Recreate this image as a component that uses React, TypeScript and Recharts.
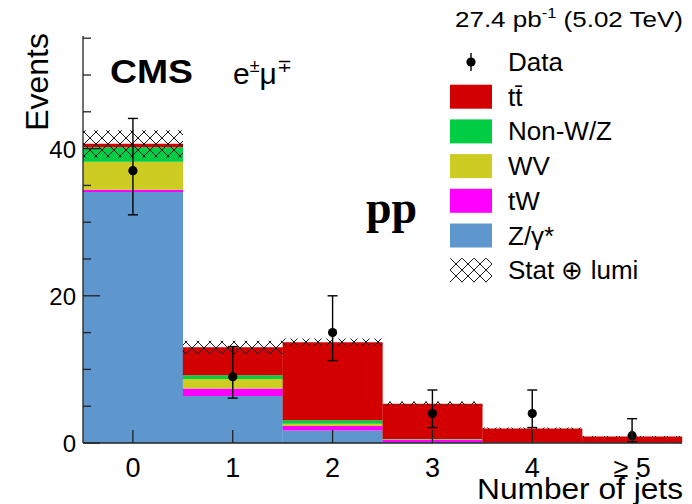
import React from "react";
import { ComposedChart, Bar, Line, XAxis, YAxis, ErrorBar } from "recharts";

// ---- data ----
const bins = ["0", "1", "2", "3", "4", "≥ 5"];
const zGamma = [34.1, 6.4, 1.7, 0.15, 0.02, 0.01];
const tW = [0.3, 1.0, 0.6, 0.3, 0.05, 0.02];
const wv = [3.8, 1.3, 0.3, 0.03, 0.01, 0.0];
const nonWZ = [2.0, 0.5, 0.5, 0.05, 0.0, 0.0];
const ttbar = [0.45, 3.8, 10.6, 4.8, 1.9, 0.85];
const statLumi = [1.85, 0.9, 0.5, 0.3, 0.12, 0.06];
const dataCounts = [37, 9, 15, 4, 4, 1];
const dataErrLow = [6.0, 2.9, 3.8, 1.9, 1.9, 0.83];
const dataErrHigh = [7.1, 4.1, 5.0, 3.2, 3.2, 2.3];
const yTicks = [0, 5, 10, 15, 20, 25, 30, 35, 40, 45, 50, 55];
const yMajor = [0, 20, 40];

const COLORS = {
  tt: "#d20000",
  nonWZ: "#00cc44",
  wv: "#cccc22",
  tW: "#ff00ff",
  z: "#5e97cd",
};

const FONT = "'Liberation Sans', Arial, Helvetica, sans-serif";

const rows = bins.map((b, i) => {
  const total = zGamma[i] + tW[i] + wv[i] + nonWZ[i] + ttbar[i];
  return {
    bin: b,
    z: zGamma[i],
    tW: tW[i],
    wv: wv[i],
    nonWZ: nonWZ[i],
    tt: ttbar[i],
    band: [Math.max(0, total - statLumi[i]), total + statLumi[i]],
    data: dataCounts[i],
    err: [dataErrLow[i], dataErrHigh[i]],
  };
});

const AXIS_COLOR = "#222";

const XTick = (props: any) => {
  const { x, y, payload } = props;
  return (
    <g>
      <line x1={x} x2={x} y1={y} y2={y - 13} stroke={AXIS_COLOR} strokeWidth={1.3} />
      <text x={x} y={y + 34} textAnchor="middle" fontSize={27} fontFamily={FONT} fill="#000">
        {payload.value}
      </text>
    </g>
  );
};

const YTick = (props: any) => {
  const { x, y, payload } = props;
  const major = yMajor.includes(payload.value);
  return (
    <g>
      <line x1={x} x2={x + (major ? 17 : 8)} y1={y} y2={y} stroke={AXIS_COLOR} strokeWidth={1.3} />
      {major && (
        <text x={x - 7} y={y + 9} textAnchor="end" fontSize={24} fontFamily={FONT} fill="#000">
          {payload.value}
        </text>
      )}
    </g>
  );
};

const DataDot = (props: any) => {
  const { cx, cy, index } = props;
  if (cx == null || cy == null) return <g key={index} />;
  return <circle key={index} cx={cx} cy={cy} r={4.6} fill="#000" />;
};

const legendItems = [
  { label: "tt\u0304", color: COLORS.tt },
  { label: "Non-W/Z", color: COLORS.nonWZ },
  { label: "WV", color: COLORS.wv },
  { label: "tW", color: COLORS.tW },
  { label: "Z/γ*", color: COLORS.z },
];

const Overlay = () => {
  const rowH = 34.7;
  const y0 = 62;
  return (
    <svg
      width={692}
      height={504}
      style={{ position: "absolute", left: 0, top: 0, pointerEvents: "none" }}
      fontFamily={FONT}
    >
      {/* top-right luminosity */}
      <text x={683} y={27} textAnchor="end" fontSize={22} fill="#000" textLength={228} lengthAdjust="spacingAndGlyphs">
        27.4 pb
        <tspan fontSize={14} dy={-9}>-1</tspan>
        <tspan dy={9}> (5.02 TeV)</tspan>
      </text>
      {/* y title */}
      <text
        transform="translate(48,33) rotate(-90)"
        textAnchor="end"
        fontSize={32}
        fill="#000"
      >
        Events
      </text>
      {/* x title */}
      <text x={683} y={499} textAnchor="end" fontSize={30} fill="#000" textLength={206} lengthAdjust="spacingAndGlyphs">
        Number of jets
      </text>
      {/* CMS */}
      <text x={110} y={83} fontSize={33} fontWeight="bold" fill="#000" textLength={83} lengthAdjust="spacingAndGlyphs">
        CMS
      </text>
      <text x={233} y={84} fontSize={30} fill="#000">
        e<tspan fontSize={18} dy={-12}>±</tspan>
        <tspan fontSize={30} dy={12}>μ</tspan>
        <tspan fontSize={18} dy={-12}>∓</tspan>
      </text>
      {/* pp */}
      <text x={366} y={223} fontSize={46} fontFamily="'Liberation Serif', 'Times New Roman', serif" fontWeight="bold" fill="#000">
        pp
      </text>
      {/* legend */}
      <g>
        <line x1={471} x2={471} y1={y0 - 9} y2={y0 + 9} stroke="#000" strokeWidth={1.4} />
        <circle cx={471} cy={y0} r={4.6} fill="#000" />
        <text x={508} y={y0 + 9} fontSize={26} fill="#000">Data</text>
        {legendItems.map((it, i) => {
          const cy = y0 + rowH * (i + 1);
          return (
            <g key={it.label}>
              <rect x={450} y={cy - 12} width={42} height={24} fill={it.color} />
              <text x={508} y={cy + 9} fontSize={26} fill="#000">{it.label}</text>
            </g>
          );
        })}
        <rect x={450} y={y0 + rowH * 6 - 12} width={42} height={24} fill="url(#xhatch)" />
        <text x={508} y={y0 + rowH * 6 + 9} fontSize={26} fill="#000">Stat ⊕ lumi</text>
      </g>
    </svg>
  );
};

export default function App() {
  return (
    <div style={{ position: "absolute", left: 0, top: 0, width: 692, height: 504, background: "#fff" }}>
      <svg width={0} height={0} style={{ position: "absolute" }}>
        <defs>
          <pattern id="xhatch" width={12} height={12} patternUnits="userSpaceOnUse">
            <path d="M0,0 L12,12 M12,0 L0,12" stroke="#000" strokeWidth={0.9} fill="none" />
          </pattern>
        </defs>
      </svg>
      <ComposedChart
        width={692}
        height={504}
        data={rows}
        margin={{ top: 36, right: 10, bottom: 0, left: 0 }}
        barCategoryGap={0}
        barGap={0}
      >
        <XAxis
          xAxisId="a"
          dataKey="bin"
          height={61}
          interval={0}
          tickSize={0}
          tickMargin={0}
          tickLine={false}
          tick={<XTick />}
          axisLine={{ stroke: AXIS_COLOR, strokeWidth: 1.3 }}
        />
        <XAxis
          xAxisId="b"
          dataKey="bin"
          orientation="top"
          height={0}
          tick={false}
          tickLine={false}
          axisLine={{ stroke: AXIS_COLOR, strokeWidth: 1.3 }}
        />
        <YAxis
          yAxisId="l"
          width={83}
          type="number"
          domain={[0, 55.3]}
          allowDataOverflow
          ticks={yTicks}
          interval={0}
          tickSize={0}
          tickMargin={0}
          tickLine={false}
          tick={<YTick />}
          axisLine={{ stroke: AXIS_COLOR, strokeWidth: 1.3 }}
        />
        <YAxis
          yAxisId="r"
          orientation="right"
          width={0}
          type="number"
          domain={[0, 55.3]}
          allowDataOverflow
          tick={false}
          tickLine={false}
          axisLine={{ stroke: AXIS_COLOR, strokeWidth: 1.3 }}
        />
        <Bar xAxisId="a" yAxisId="l" stackId="mc" dataKey="z" fill={COLORS.z} isAnimationActive={false} />
        <Bar xAxisId="a" yAxisId="l" stackId="mc" dataKey="tW" fill={COLORS.tW} isAnimationActive={false} />
        <Bar xAxisId="a" yAxisId="l" stackId="mc" dataKey="wv" fill={COLORS.wv} isAnimationActive={false} />
        <Bar xAxisId="a" yAxisId="l" stackId="mc" dataKey="nonWZ" fill={COLORS.nonWZ} isAnimationActive={false} />
        <Bar xAxisId="a" yAxisId="l" stackId="mc" dataKey="tt" fill={COLORS.tt} isAnimationActive={false} />
        <Bar xAxisId="b" yAxisId="l" dataKey="band" fill="url(#xhatch)" isAnimationActive={false} />
        <Line
          xAxisId="a"
          yAxisId="l"
          dataKey="data"
          stroke="none"
          dot={<DataDot />}
          activeDot={false}
          isAnimationActive={false}
        >
          <ErrorBar dataKey="err" direction="y" width={5} stroke="#000" strokeWidth={1.4} />
        </Line>
      </ComposedChart>
      <Overlay />
    </div>
  );
}
